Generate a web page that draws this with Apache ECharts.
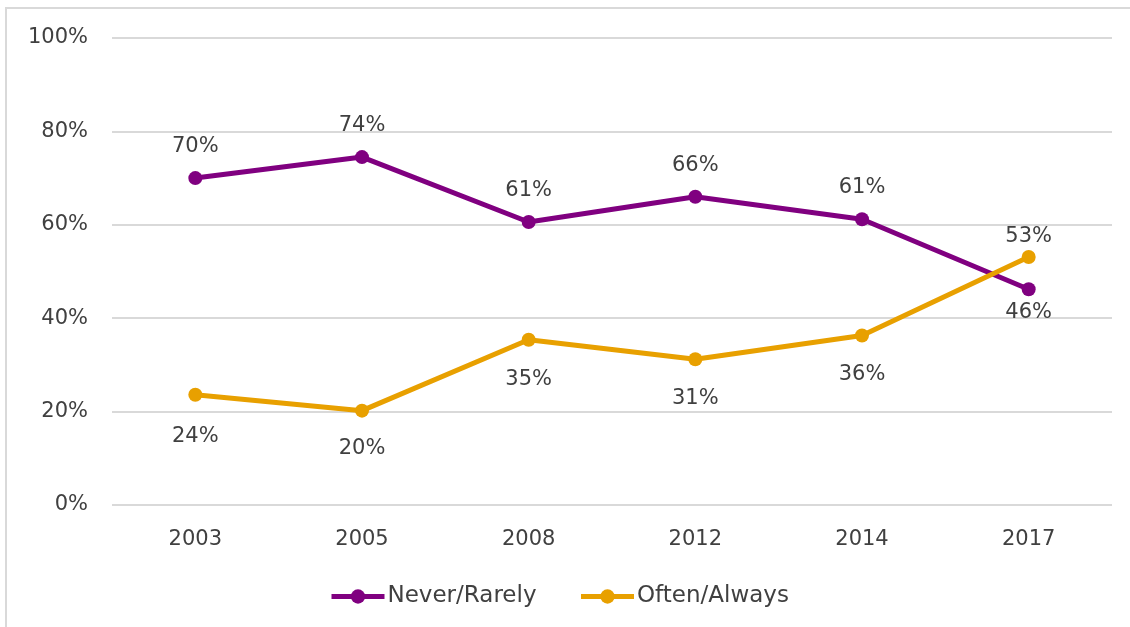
<!DOCTYPE html>
<html>
<head>
<meta charset="utf-8">
<style>
  html, body { margin: 0; padding: 0; background: #fff; }
  #chart { width: 1130px; height: 627px; }
</style>
<script src="https://cdn.jsdelivr.net/npm/echarts@6/dist/echarts.min.js"></script>
</head>
<body>
<div id="chart"></div>
<script>
var years = ['2003', '2005', '2008', '2012', '2014', '2017'];
var neverRarely = [70, 74.5, 60.6, 66, 61.2, 46.2];
var oftenAlways = [23.6, 20.2, 35.4, 31.2, 36.3, 53.1];
var neverLabels = ['70%', '74%', '61%', '66%', '61%', '46%'];
var oftenLabels = ['24%', '20%', '35%', '31%', '36%', '53%'];

var textColor = '#404040';
var fontName = 'DejaVu Sans';

var chart = echarts.init(document.getElementById('chart'));

// label above or below each point, as in the original
function withLabels(values, labels, positions, distances) {
    return values.map(function (v, i) {
        return {
            value: v,
            label: { position: positions[i], distance: distances[i], formatter: labels[i] }
        };
    });
}

var option = {
    animation: false,
    textStyle: { fontFamily: fontName },
    graphic: [{
        type: 'rect',
        shape: { x: 6, y: 8, width: 1140, height: 640 },
        style: { fill: 'none', stroke: '#d9d9d9', lineWidth: 2 },
        silent: true
    }],
    grid: { left: 112, right: 18, top: 38, bottom: 122 },
    legend: {
        bottom: 14,
        left: 324,
        itemWidth: 53,
        itemHeight: 18,
        itemGap: 42,
        lineStyle: { width: 5 },
        textStyle: { fontSize: 23, color: textColor, fontFamily: fontName, padding: [0, 0, 0, -2] },
        data: ['Never/Rarely', 'Often/Always']
    },
    xAxis: {
        type: 'category',
        data: years,
        axisLine: { show: false },
        axisTick: { show: false },
        axisLabel: { fontSize: 21, color: textColor, margin: 24 }
    },
    yAxis: {
        type: 'value',
        min: 0,
        max: 100,
        interval: 20,
        axisLabel: { fontSize: 21, color: textColor, margin: 24, formatter: '{value}%' },
        splitLine: { lineStyle: { color: '#d9d9d9', width: 2 } }
    },
    series: [{
        name: 'Never/Rarely',
        type: 'line',
        data: withLabels(neverRarely, neverLabels,
            ['top', 'top', 'top', 'top', 'top', 'bottom'],
            [14, 14, 14, 14, 14, 6]),
        symbol: 'circle',
        symbolSize: 14,
        color: '#800080',
        lineStyle: { width: 5 },
        label: { show: true, fontSize: 21, color: textColor }
    }, {
        name: 'Often/Always',
        type: 'line',
        data: withLabels(oftenAlways, oftenLabels,
            ['bottom', 'bottom', 'bottom', 'bottom', 'bottom', 'top'],
            [24, 20, 22, 22, 22, 3]),
        symbol: 'circle',
        symbolSize: 14,
        color: '#E8A000',
        lineStyle: { width: 5 },
        label: { show: true, fontSize: 21, color: textColor }
    }]
};

chart.setOption(option);
</script>
</body>
</html>
